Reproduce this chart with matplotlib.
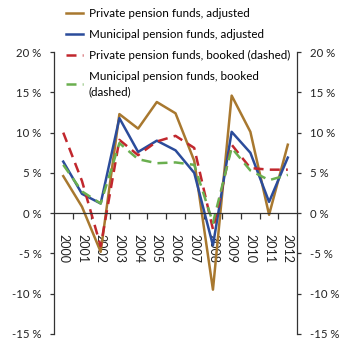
import numpy as np
import matplotlib
matplotlib.use("Agg")
import matplotlib.pyplot as plt

plt.rcParams['font.family'] = ['Lato', 'DejaVu Sans']

years = ["2000", "2001", "2002", "2003", "2004", "2005", "2006",
         "2007", "2008", "2009", "2010", "2011", "2012"]

private_adjusted = [4.6, 0.8, -4.8, 12.3, 10.5, 13.8, 12.4, 6.5, -9.5, 14.6, 10.1, -0.2, 8.5]
municipal_adjusted = [6.4, 2.4, 1.2, 11.8, 7.6, 9.0, 7.8, 5.0, -4.0, 10.1, 7.5, 1.4, 6.9]
private_booked = [10.0, 4.0, -4.1, 9.1, 7.2, 8.9, 9.6, 8.1, -2.0, 8.5, 5.6, 5.4, 5.4]
municipal_booked = [6.0, 2.7, 1.2, 8.7, 6.7, 6.2, 6.3, 6.0, -1.2, 8.1, 5.3, 4.1, 4.75]

labels = ["Private pension funds, adjusted",
          "Municipal pension funds, adjusted",
          "Private pension funds, booked (dashed)",
          "Municipal pension funds, booked\n(dashed)"]

yticks = [-15, -10, -5, 0, 5, 10, 15, 20]

fig = plt.figure(figsize=(3.5, 3.45), dpi=100)
ax = fig.add_axes([0.154, 0.032, 0.695, 0.817])

x = np.arange(len(years))
ax.plot(x, private_adjusted, color="#A8782F", lw=1.8, label=labels[0])
ax.plot(x, municipal_adjusted, color="#2B4C9B", lw=1.8, label=labels[1])
ax.plot(x, private_booked, color="#C1272D", lw=1.8, dashes=(4, 2.5), label=labels[2])
ax.plot(x, municipal_booked, color="#6AAF4F", lw=1.8, dashes=(4, 2.5), label=labels[3])

ax.set_xlim(-0.5, len(years) - 0.5)
ax.set_ylim(-15, 20)

# spines
ax.spines['top'].set_visible(False)
ax.spines['bottom'].set_position(('data', 0))
for s in ['left', 'right', 'bottom']:
    ax.spines[s].set_color("#333333")
    ax.spines[s].set_linewidth(0.9)

# y ticks left + right
ax.set_yticks(yticks)
ax.set_yticklabels([f"{v} %" for v in yticks])
ax.tick_params(axis='y', which='both', direction='out', length=3, width=0.9,
               color="#333333", labelsize=8.2, labelcolor="#222222",
               left=True, right=True, labelleft=True, labelright=True, pad=6)

# x ticks: boundaries as major, labels at centers as minor
ax.set_xticks(np.arange(-0.5, len(years), 1.0)[1:-1])
ax.set_xticklabels([])
ax.set_xticks(x, minor=True)
ax.set_xticklabels(years, minor=True, rotation=270, fontsize=9, color="#222222")
ax.tick_params(axis='x', which='major', direction='out', length=4, width=0.9, color="#333333")
ax.tick_params(axis='x', which='minor', length=0, pad=15)

leg = fig.legend(loc='upper left', bbox_to_anchor=(66 / 350, 1 - 8 / 345), frameon=False,
                 fontsize=8.4, handlelength=1.45, handletextpad=0.5, labelspacing=0.85,
                 borderaxespad=0, borderpad=0)
for t in leg.get_texts():
    t.set_linespacing(1.45)

fig.savefig("out.png", dpi=100)
